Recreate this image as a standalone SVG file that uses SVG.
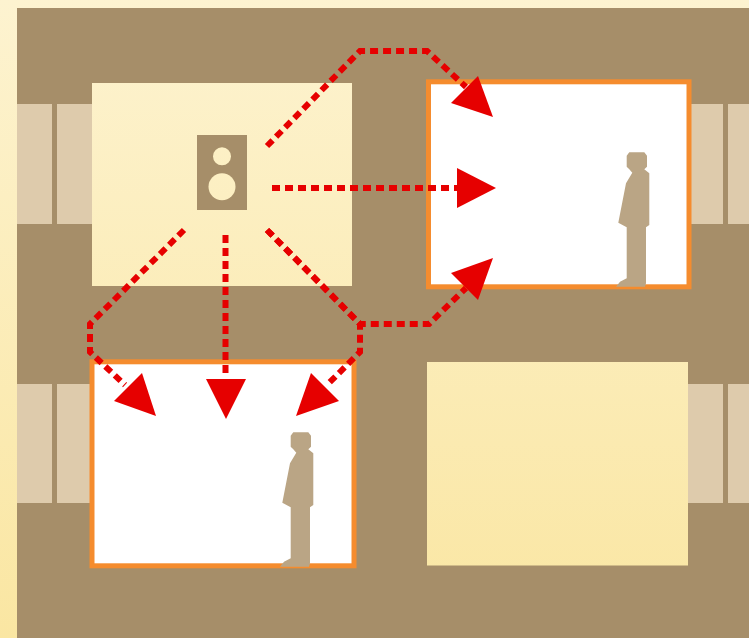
<svg xmlns="http://www.w3.org/2000/svg" width="749" height="638" viewBox="0 0 749 638">
<defs>
<linearGradient id="bg" gradientUnits="userSpaceOnUse" x1="0" y1="0" x2="0" y2="638">
<stop offset="0" stop-color="#FDF3D0"/><stop offset="1" stop-color="#FAE6A2"/>
</linearGradient>
<polygon id="person" points="629.3,152.3 644.3,152.3 647,155.7 647,166.7 644.3,169.3 649.3,173.3 649.3,225 646,227.3 646,283.3 645,286.7 616,286.7 620,281.7 626.7,278.3 626.7,227.3 618.3,222.7 626,183.3 632.3,172.7 629.3,169.3 626.7,166.7 626.7,155.7"/>
</defs>
<style>
.lit{fill:url(#bg)}
.wall{fill:#A68E69}
.win{fill:#DECBAC}
.room{fill:#FFFFFF;stroke:#F58C2E;stroke-width:5}
.fig{fill:#BAA585}
.dash{fill:none;stroke:#E60000;stroke-width:6;stroke-dasharray:8 5}
.head{fill:#E60000}
</style>
<rect class="lit" width="749" height="638"/>
<rect class="wall" x="17" y="8" width="732" height="630"/>
<g id="windows">
<rect class="win" x="17" y="104" width="35" height="120"/>
<rect class="win" x="57" y="104" width="36" height="120"/>
<rect class="win" x="17" y="384" width="35" height="119"/>
<rect class="win" x="57" y="384" width="34" height="119"/>
<rect class="win" x="690" y="104" width="33" height="120"/>
<rect class="win" x="728" y="104" width="21" height="120"/>
<rect class="win" x="687" y="384" width="36" height="119"/>
<rect class="win" x="728" y="384" width="21" height="119"/>
</g>
<g id="source-room">
<rect class="lit" x="92" y="83" width="260" height="203"/>
</g>
<g id="speaker">
<rect class="wall" x="197" y="135" width="50" height="75"/>
<circle class="lit" cx="222" cy="156.300" r="9"/>
<circle class="lit" cx="222" cy="186.800" r="13.500"/>
</g>
<g id="room-top-right">
<rect class="room" x="428.500" y="81.800" width="260.500" height="205"/>
<use href="#person" class="fig"/>
</g>
<g id="room-bottom-left">
<rect class="room" x="92" y="361.800" width="262" height="204"/>
<use href="#person" class="fig" transform="translate(-336 280)"/>
</g>
<g id="room-bottom-right">
<rect class="lit" x="427" y="362" width="261" height="203.500"/>
</g>
<g id="connectors">
<polyline class="dash" points="267,146 360,51 427,51 466,87"/>
<polygon class="head" points="478,76 493,117 451,103"/>
<polyline class="dash" points="272,188 458,188"/>
<polygon class="head" points="457,168 496,188 457,208"/>
<polyline class="dash" points="267,230 360,324 429,324 466,288"/>
<polygon class="head" points="493,258 451,273 478,300"/>
<polyline class="dash" points="225.500,235 225.500,376"/>
<polygon class="head" points="206,379 246,379 226,419"/>
<polyline class="dash" points="184,230 90,324 90,352 125,385"/>
<polygon class="head" points="142,373 156,416 114,401"/>
<polyline class="dash" points="267,230 360,324 360,352 327,385"/>
<polygon class="head" points="311,373 339,401 296,416"/>
</g>
</svg>
